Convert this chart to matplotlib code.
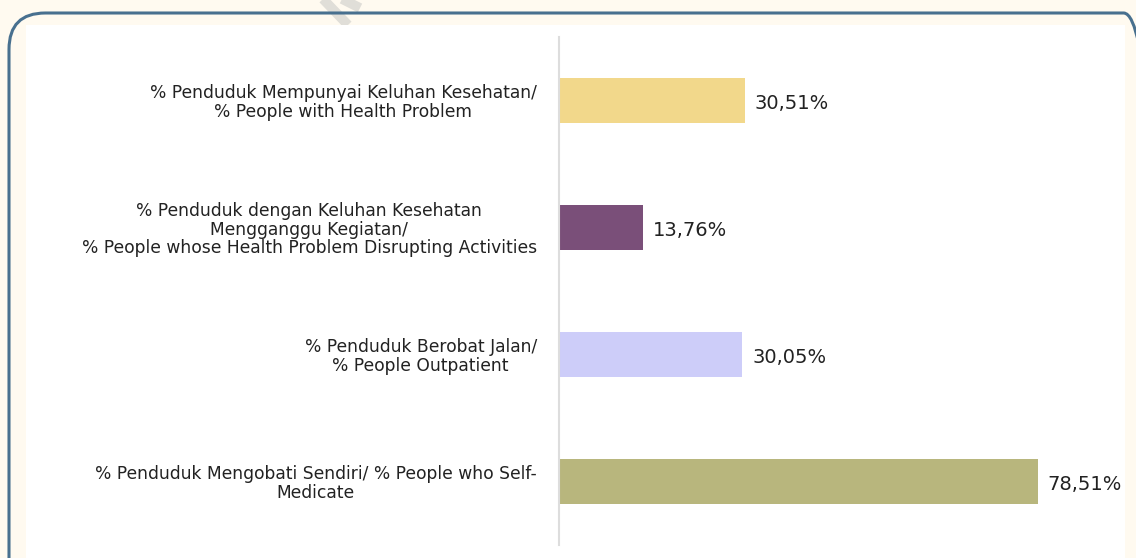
import matplotlib
matplotlib.use("Agg")
import matplotlib.pyplot as plt
from matplotlib.lines import Line2D
from matplotlib.patches import FancyBboxPatch, Rectangle

W, H = 1136, 558

categories = [
    "% Penduduk Mempunyai Keluhan Kesehatan/\n% People with Health Problem",
    "% Penduduk dengan Keluhan Kesehatan\nMengganggu Kegiatan/\n% People whose Health Problem Disrupting Activities",
    "% Penduduk Berobat Jalan/\n% People Outpatient",
    "% Penduduk Mengobati Sendiri/ % People who Self-\nMedicate",
]
values = [30.51, 13.76, 30.05, 78.51]
value_labels = ["30,51%", "13,76%", "30,05%", "78,51%"]
bar_colors = ["#F2D88B", "#7A4F79", "#CDCDF9", "#B8B67D"]

plt.rcParams["font.family"] = ["DejaVu Sans"]

fig = plt.figure(figsize=(W / 100, H / 100), dpi=100)
fig.patch.set_facecolor("#FFFAF0")


def fx(px):
    return px / W


def fy(py):
    return 1 - py / H


# faint watermark stroke
fig.add_artist(Line2D([fx(322), fx(348)], [fy(-2), fy(25)], transform=fig.transFigure,
                      color="#E0DED8", linewidth=7, zorder=-3, solid_capstyle="butt"))
fig.add_artist(Line2D([fx(340), fx(360)], [fy(-2), fy(8)], transform=fig.transFigure,
                      color="#E0DED8", linewidth=7, zorder=-3, solid_capstyle="butt"))

# rounded frame
frame = FancyBboxPatch(
    (fx(9), fy(600)), fx(1160 - 9), (600 - 13) / H,
    boxstyle="round,pad=0,rounding_size=0.032",
    transform=fig.transFigure, facecolor="none",
    edgecolor="#48708F", linewidth=2.2, mutation_aspect=W / H, zorder=-1,
)
fig.add_artist(frame)
fig.add_artist(Rectangle((fx(26), fy(600)), fx(1125 - 26), (600 - 25) / H,
                         transform=fig.transFigure, facecolor="white",
                         edgecolor="none", zorder=-2))

ax = fig.add_axes([fx(559), fy(545), fx(1125 - 559), (545 - 37) / H])
ax.set_zorder(2)
ax.set_facecolor("none")
ypos = list(range(len(values)))
ax.barh(ypos, values, height=0.36, color=bar_colors)
ax.set_ylim(len(values) - 0.5, -0.5)
ax.set_xlim(0, (1125 - 559) / 6.1)

for y, v, lab in zip(ypos, values, value_labels):
    ax.text(v + 1.6, y + 0.02, lab, va="center", ha="left", fontsize=14, color="#222222")

ax.set_yticks(ypos)
ax.set_yticklabels(categories, fontsize=12.3, color="#222222", linespacing=1.02)
for t in ax.get_yticklabels():
    t.set_multialignment("center")
ax.tick_params(axis="y", length=0, pad=16)
ax.set_xticks([])
for s in ["top", "right", "bottom"]:
    ax.spines[s].set_visible(False)
ax.spines["left"].set_color("#DDDDDD")
ax.spines["left"].set_linewidth(1.5)

fig.savefig("out.png", dpi=100, facecolor=fig.get_facecolor())
